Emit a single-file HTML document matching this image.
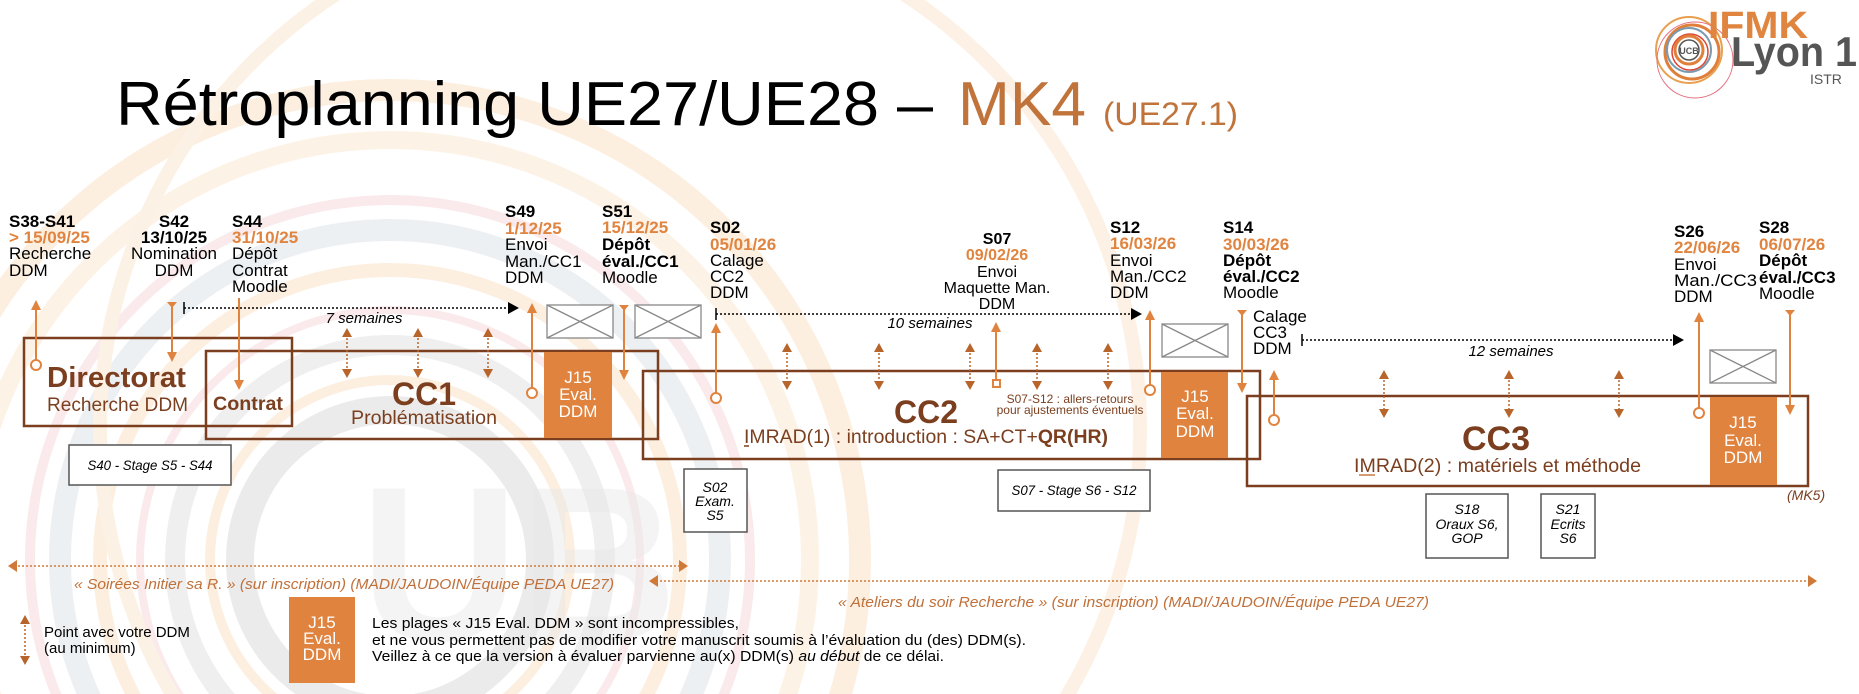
<!DOCTYPE html>
<html><head><meta charset="utf-8"><style>
html,body{margin:0;padding:0;background:#fff;width:1859px;height:694px;overflow:hidden;}
svg{display:block;font-family:"Liberation Sans",sans-serif;}
</style></head><body>
<svg width="1859" height="694" viewBox="0 0 1859 694" xmlns="http://www.w3.org/2000/svg">
<!-- watermark -->
<g fill="none" opacity="0.55">
<circle cx="390" cy="560" r="470" stroke="#fbe2c8" stroke-width="22"/>
<circle cx="390" cy="560" r="420" stroke="#fde9d2" stroke-width="18"/>
<circle cx="390" cy="560" r="360" stroke="#f6dadd" stroke-width="10"/>
<circle cx="390" cy="560" r="330" stroke="#dfe5ea" stroke-width="22"/>
<circle cx="390" cy="560" r="290" stroke="#fbe2c8" stroke-width="14"/>
<circle cx="390" cy="560" r="250" stroke="#f6dadd" stroke-width="8"/>
<circle cx="390" cy="560" r="215" stroke="#e2e2e2" stroke-width="20"/>
<circle cx="390" cy="560" r="180" stroke="#fbe2c8" stroke-width="10"/>
<circle cx="390" cy="560" r="150" stroke="#dcdcdc" stroke-width="28"/>
<circle cx="620" cy="430" r="520" stroke="#fbe6d0" stroke-width="14"/>
</g>
<text x="360" y="640" font-size="220" font-weight="bold" fill="#e8e8e8" opacity="0.45">UB</text>

<!-- Logo -->
<g fill="none">
<circle cx="1689" cy="50" r="33" stroke="#e8a050" stroke-width="2"/>
<circle cx="1692" cy="52" r="27" stroke="#e07f3a" stroke-width="3"/>
<circle cx="1689" cy="50" r="22" stroke="#7a9ab0" stroke-width="2"/>
<circle cx="1690" cy="52" r="18" stroke="#d43" stroke-width="1.5"/>
<circle cx="1689" cy="50" r="14" stroke="#e07f3a" stroke-width="3"/>
<circle cx="1689" cy="50" r="10" stroke="#555" stroke-width="1.5"/>
<circle cx="1695" cy="60" r="38" stroke="#e56b7b" stroke-width="1"/>
</g>
<text x="1689" y="54" font-size="9" text-anchor="middle" fill="#555" font-weight="bold">UCB</text>
<text x="1708" y="38" font-size="38" font-weight="bold" fill="#e0853f" textLength="100" lengthAdjust="spacingAndGlyphs">IFMK</text>
<text x="1731" y="66" font-size="42" font-weight="bold" fill="#555" textLength="126" lengthAdjust="spacingAndGlyphs">Lyon 1</text>
<text x="1810" y="84" font-size="14" fill="#555">ISTR</text>

<!-- Title -->
<text x="116" y="125" font-size="62" fill="#000" textLength="817" lengthAdjust="spacingAndGlyphs">Rétroplanning UE27/UE28 –</text>
<text x="958" y="125" font-size="62" fill="#c0733a" textLength="128" lengthAdjust="spacingAndGlyphs">MK4</text>
<text x="1103" y="125" font-size="32" fill="#c0733a" textLength="135" lengthAdjust="spacingAndGlyphs">(UE27.1)</text>

<!-- Headers -->
<g font-size="17" fill="#000">
<text x="9" y="227" font-weight="bold">S38-S41</text>
<text x="9" y="243" font-weight="bold" fill="#e0843f">&gt; 15/09/25</text>
<text x="9" y="259">Recherche</text>
<text x="9" y="276">DDM</text>

<g text-anchor="middle">
<text x="174" y="227" font-weight="bold">S42</text>
<text x="174" y="243" font-weight="bold">13/10/25</text>
<text x="174" y="259">Nomination</text>
<text x="174" y="276">DDM</text>
</g>

<text x="232" y="227" font-weight="bold">S44</text>
<text x="232" y="243" font-weight="bold" fill="#e0843f">31/10/25</text>
<text x="232" y="259">Dépôt</text>
<text x="232" y="276">Contrat</text>
<text x="232" y="292">Moodle</text>

<text x="505" y="217" font-weight="bold">S49</text>
<text x="505" y="234" font-weight="bold" fill="#e0843f">1/12/25</text>
<text x="505" y="250">Envoi</text>
<text x="505" y="267">Man./CC1</text>
<text x="505" y="283">DDM</text>

<text x="602" y="217" font-weight="bold">S51</text>
<text x="602" y="233" font-weight="bold" fill="#e0843f">15/12/25</text>
<text x="602" y="250" font-weight="bold">Dépôt</text>
<text x="602" y="267" font-weight="bold">éval./CC1</text>
<text x="602" y="283">Moodle</text>

<text x="710" y="233" font-weight="bold">S02</text>
<text x="710" y="250" font-weight="bold" fill="#e0843f">05/01/26</text>
<text x="710" y="266">Calage</text>
<text x="710" y="282">CC2</text>
<text x="710" y="298">DDM</text>

<g text-anchor="middle">
<text x="997" y="244" font-weight="bold" font-size="16">S07</text>
<text x="997" y="260" font-weight="bold" fill="#e0843f" font-size="16">09/02/26</text>
<text x="997" y="277" font-size="16">Envoi</text>
<text x="997" y="293" font-size="16">Maquette Man.</text>
<text x="997" y="309" font-size="16">DDM</text>
</g>

<text x="1110" y="233" font-weight="bold">S12</text>
<text x="1110" y="249" font-weight="bold" fill="#e0843f">16/03/26</text>
<text x="1110" y="266">Envoi</text>
<text x="1110" y="282">Man./CC2</text>
<text x="1110" y="298">DDM</text>

<text x="1223" y="233" font-weight="bold">S14</text>
<text x="1223" y="250" font-weight="bold" fill="#e0843f">30/03/26</text>
<text x="1223" y="266" font-weight="bold">Dépôt</text>
<text x="1223" y="282" font-weight="bold">éval./CC2</text>
<text x="1223" y="298">Moodle</text>

<text x="1253" y="322">Calage</text>
<text x="1253" y="338">CC3</text>
<text x="1253" y="354">DDM</text>

<text x="1674" y="237" font-weight="bold">S26</text>
<text x="1674" y="253" font-weight="bold" fill="#e0843f">22/06/26</text>
<text x="1674" y="270">Envoi</text>
<text x="1674" y="286" textLength="83" lengthAdjust="spacingAndGlyphs">Man./CC3</text>
<text x="1674" y="302">DDM</text>

<text x="1759" y="233" font-weight="bold">S28</text>
<text x="1759" y="250" font-weight="bold" fill="#e0843f">06/07/26</text>
<text x="1759" y="266" font-weight="bold">Dépôt</text>
<text x="1759" y="283" font-weight="bold">éval./CC3</text>
<text x="1759" y="299">Moodle</text>
</g>

<!-- Dotted black duration lines -->
<g stroke="#000" stroke-width="1.5">
<line x1="184" y1="308" x2="510" y2="308" stroke-dasharray="2,2"/>
<line x1="184" y1="302" x2="184" y2="314"/>
<line x1="716" y1="314" x2="1133" y2="314" stroke-dasharray="2,2"/>
<line x1="716" y1="308" x2="716" y2="320"/>
<line x1="1302" y1="340" x2="1675" y2="340" stroke-dasharray="2,2"/>
<line x1="1302" y1="334" x2="1302" y2="346"/>
</g>
<polygon points="508,302 519,308 508,314" fill="#000"/>
<polygon points="1131,308 1142,314 1131,320" fill="#000"/>
<polygon points="1673,334 1684,340 1673,346" fill="#000"/>
<g font-size="15" font-style="italic" text-anchor="middle">
<text x="364" y="323">7 semaines</text>
<text x="930" y="328">10 semaines</text>
<text x="1511" y="356">12 semaines</text>
</g>

<!-- X boxes -->
<g stroke="#888" stroke-width="1.3" fill="#fff">
<rect x="547" y="305" width="66" height="33"/><path d="M547 305L613 338M613 305L547 338"/>
<rect x="635" y="305" width="66" height="33"/><path d="M635 305L701 338M701 305L635 338"/>
<rect x="1162" y="324" width="66" height="33"/><path d="M1162 324L1228 357M1228 324L1162 357"/>
<rect x="1710" y="350" width="66" height="33"/><path d="M1710 350L1776 383M1776 350L1710 383"/>
</g>

<!-- Main boxes -->
<g fill="none" stroke="#7b3f1f" stroke-width="2.5">
<rect x="24" y="338" width="268" height="88"/>
<rect x="206" y="351" width="452" height="88"/>
<rect x="643" y="371" width="617" height="88"/>
<rect x="1247" y="396" width="561" height="90"/>
</g>
<g fill="#e0833f">
<rect x="544" y="352" width="68" height="86"/>
<rect x="1161" y="372" width="67" height="86"/>
<rect x="1710" y="397" width="67" height="88"/>
<rect x="289" y="597" width="66" height="86"/>
</g>
<g fill="#fff" font-size="17" text-anchor="middle">
<text x="578" y="383">J15</text><text x="578" y="400">Eval.</text><text x="578" y="417">DDM</text>
<text x="1195" y="402">J15</text><text x="1195" y="419">Eval.</text><text x="1195" y="437">DDM</text>
<text x="1743" y="428">J15</text><text x="1743" y="446">Eval.</text><text x="1743" y="463">DDM</text>
<text x="322" y="628">J15</text><text x="322" y="644">Eval.</text><text x="322" y="660">DDM</text>
</g>

<!-- Box labels -->
<g fill="#7b3f1f">
<text x="47" y="387" font-size="29" font-weight="bold" textLength="139" lengthAdjust="spacingAndGlyphs">Directorat</text>
<text x="47" y="411" font-size="19" textLength="141" lengthAdjust="spacingAndGlyphs">Recherche DDM</text>
<text x="213" y="410" font-size="19" font-weight="bold" textLength="70" lengthAdjust="spacingAndGlyphs">Contrat</text>
<text x="424" y="405" font-size="32" font-weight="bold" text-anchor="middle">CC1</text>
<text x="351" y="424" font-size="19" textLength="146" lengthAdjust="spacingAndGlyphs">Problématisation</text>
<text x="926" y="423" font-size="32" font-weight="bold" text-anchor="middle">CC2</text>
<text x="744" y="443" font-size="19" textLength="364" lengthAdjust="spacingAndGlyphs">IMRAD(1) : introduction : SA+CT+<tspan font-weight="bold">QR(HR)</tspan></text>
<text x="1496" y="450" font-size="34" font-weight="bold" text-anchor="middle">CC3</text>
<text x="1354" y="472" font-size="19" textLength="287" lengthAdjust="spacingAndGlyphs">IMRAD(2) : matériels et méthode</text>
<text x="1787" y="500" font-size="14" font-style="italic">(MK5)</text>
<text x="1070" y="403" font-size="12" text-anchor="middle">S07-S12 : allers-retours</text>
<text x="1070" y="414" font-size="12" text-anchor="middle">pour ajustements éventuels</text>
</g>
<line x1="744" y1="446" x2="749" y2="446" stroke="#7b3f1f" stroke-width="1.5"/>
<line x1="1359" y1="475" x2="1375" y2="475" stroke="#c77a45" stroke-width="1.5"/>

<!-- Orange connectors -->
<g stroke="#e0833f" stroke-width="2" fill="#fff">
<line x1="36" y1="304" x2="36" y2="360"/><circle cx="36" cy="365" r="5"/>
<line x1="172" y1="302" x2="172" y2="358"/>
<line x1="239" y1="298" x2="239" y2="386"/>
<line x1="532" y1="307" x2="532" y2="388"/><circle cx="532" cy="393" r="5"/>
<line x1="624" y1="305" x2="624" y2="376"/>
<line x1="716" y1="327" x2="716" y2="393"/><circle cx="716" cy="398" r="5"/>
<line x1="996" y1="326" x2="996" y2="380"/><rect x="993" y="380" width="7" height="7"/>
<line x1="1150" y1="314" x2="1150" y2="385"/><circle cx="1150" cy="390" r="5"/>
<line x1="1242" y1="310" x2="1242" y2="389"/>
<line x1="1274" y1="374" x2="1274" y2="415"/><circle cx="1274" cy="420" r="5"/>
<line x1="1699" y1="316" x2="1699" y2="408"/><circle cx="1699" cy="413" r="5"/>
<line x1="1790" y1="310" x2="1790" y2="411"/>
</g>
<g fill="#e0833f">
<polygon points="31,310 36,300 41,310"/>
<polygon points="167,302 177,302 172,308"/><polygon points="167,352 177,352 172,362"/>
<polygon points="234,380 244,380 239,390"/>
<polygon points="527,313 532,303 537,313"/>
<polygon points="619,305 629,305 624,311"/><polygon points="619,370 629,370 624,380"/>
<polygon points="711,333 716,323 721,333"/>
<polygon points="991,332 996,322 1001,332"/>
<polygon points="1145,320 1150,310 1155,320"/>
<polygon points="1237,310 1247,310 1242,316"/><polygon points="1237,383 1247,383 1242,393"/>
<polygon points="1269,380 1274,370 1279,380"/>
<polygon points="1694,322 1699,312 1704,322"/>
<polygon points="1785,310 1795,310 1790,316"/><polygon points="1785,405 1795,405 1790,415"/>
</g>

<!-- Double dotted arrows -->
<g stroke="#b8652b" stroke-width="1.5" stroke-dasharray="2,2">
<line x1="347" y1="334" x2="347" y2="372"/><line x1="418" y1="334" x2="418" y2="372"/><line x1="488" y1="334" x2="488" y2="372"/>
<line x1="787" y1="349" x2="787" y2="384"/><line x1="879" y1="349" x2="879" y2="384"/><line x1="970" y1="349" x2="970" y2="384"/><line x1="1037" y1="349" x2="1037" y2="384"/><line x1="1108" y1="349" x2="1108" y2="384"/>
<line x1="1384" y1="376" x2="1384" y2="412"/><line x1="1509" y1="376" x2="1509" y2="412"/><line x1="1619" y1="376" x2="1619" y2="412"/>
<line x1="25" y1="621" x2="25" y2="659"/>
</g>
<g fill="#b8652b">
<path d="M342 337L347 328L352 337ZM342 369L347 378L352 369Z"/>
<path d="M413 337L418 328L423 337ZM413 369L418 378L423 369Z"/>
<path d="M483 337L488 328L493 337ZM483 369L488 378L493 369Z"/>
<path d="M782 352L787 343L792 352ZM782 381L787 390L792 381Z"/>
<path d="M874 352L879 343L884 352ZM874 381L879 390L884 381Z"/>
<path d="M965 352L970 343L975 352ZM965 381L970 390L975 381Z"/>
<path d="M1032 352L1037 343L1042 352ZM1032 381L1037 390L1042 381Z"/>
<path d="M1103 352L1108 343L1113 352ZM1103 381L1108 390L1113 381Z"/>
<path d="M1379 379L1384 370L1389 379ZM1379 409L1384 418L1389 409Z"/>
<path d="M1504 379L1509 370L1514 379ZM1504 409L1509 418L1514 409Z"/>
<path d="M1614 379L1619 370L1624 379ZM1614 409L1619 418L1624 409Z"/>
<path d="M20 624L25 615L30 624ZM20 656L25 665L30 656Z"/>
</g>

<!-- Gray boxes -->
<g stroke="#555" stroke-width="1.5" fill="#fff">
<rect x="69" y="445" width="162" height="40"/>
<rect x="684" y="469" width="63" height="63"/>
<rect x="998" y="470" width="152" height="41"/>
<rect x="1426" y="494" width="82" height="64"/>
<rect x="1541" y="494" width="54" height="64"/>
</g>
<g font-size="14" font-style="italic" text-anchor="middle" fill="#000">
<text x="150" y="470" textLength="125" lengthAdjust="spacingAndGlyphs">S40 - Stage S5 - S44</text>
<text x="715" y="492">S02</text><text x="715" y="506">Exam.</text><text x="715" y="520">S5</text>
<text x="1074" y="495" textLength="125" lengthAdjust="spacingAndGlyphs">S07 - Stage S6 - S12</text>
<text x="1467" y="514">S18</text><text x="1467" y="529">Oraux S6,</text><text x="1467" y="543">GOP</text>
<text x="1568" y="514">S21</text><text x="1568" y="529">Ecrits</text><text x="1568" y="543">S6</text>
</g>

<!-- Bottom long arrows -->
<g stroke="#d07a3a" stroke-width="1.5" stroke-dasharray="2,2">
<line x1="14" y1="566" x2="682" y2="566"/>
<line x1="656" y1="581" x2="1811" y2="581"/>
</g>
<g fill="#d07a3a">
<path d="M8 566L17 560L17 572Z"/><path d="M688 566L679 560L679 572Z"/>
<path d="M649 581L658 575L658 587Z"/><path d="M1817 581L1808 575L1808 587Z"/>
</g>
<g font-size="15" font-style="italic" fill="#c0703a">
<text x="74" y="589" textLength="540" lengthAdjust="spacingAndGlyphs">« Soirées Initier sa R. » (sur inscription) (MADI/JAUDOIN/Équipe PEDA UE27)</text>
<text x="838" y="607" textLength="591" lengthAdjust="spacingAndGlyphs">« Ateliers du soir Recherche » (sur inscription) (MADI/JAUDOIN/Équipe PEDA UE27)</text>
</g>

<!-- Legend -->
<g font-size="15" fill="#000">
<text x="44" y="637">Point avec votre DDM</text>
<text x="44" y="653">(au minimum)</text>
<text x="372" y="628" textLength="367" lengthAdjust="spacingAndGlyphs">Les plages « J15 Eval. DDM » sont incompressibles,</text>
<text x="372" y="645" textLength="654" lengthAdjust="spacingAndGlyphs">et ne vous permettent pas de modifier votre manuscrit soumis à l’évaluation du (des) DDM(s).</text>
<text x="372" y="661" textLength="572" lengthAdjust="spacingAndGlyphs">Veillez à ce que la version à évaluer parvienne au(x) DDM(s) <tspan font-style="italic">au début</tspan> de ce délai.</text>
</g>
</svg>
</body></html>
